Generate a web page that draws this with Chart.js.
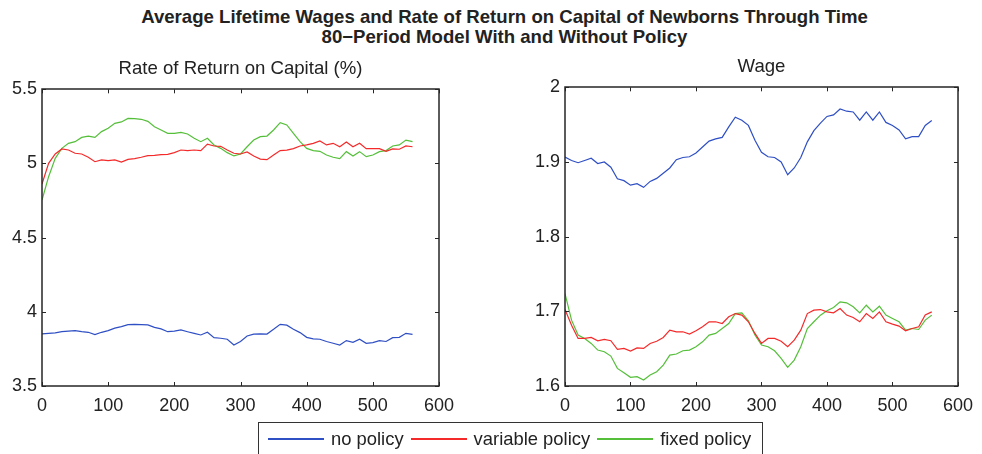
<!DOCTYPE html>
<html>
<head>
<meta charset="utf-8">
<script src="https://cdn.jsdelivr.net/npm/chart.js@4.4.1/dist/chart.umd.min.js"></script>
<style>
    body { margin: 0; background: #fff; width: 982px; height: 454px; overflow: hidden; position: relative; font-family: "Liberation Sans", Arial, sans-serif; color: #222; }
    #main-title { position: absolute; left: 0; top: 7px; width: 1009px; text-align: center; font-weight: bold; font-size: 18.6px; line-height: 20px; }
    canvas { position: absolute; }
    #legend { position: absolute; left: 258px; top: 422px; width: 505px; height: 40px; border: 1px solid #333; box-sizing: border-box; display: flex; align-items: flex-start; padding-top: 5px; padding-left: 9px; font-size: 18.4px; white-space: nowrap; }
    .leg-item { display: flex; align-items: center; margin-right: 7px; flex-shrink: 0; }
    .leg-line { display: inline-block; width: 56px; height: 1.4px; margin-right: 7px; }
</style>
</head>
<body>
<div id="main-title">Average Lifetime Wages and Rate of Return on Capital of Newborns Through Time<br>80−Period Model With and Without Policy</div>
<canvas id="rate-chart" width="480" height="404" style="left:0;top:50px"></canvas>
<canvas id="wage-chart" width="462" height="404" style="left:520px;top:50px"></canvas>
<div id="legend"></div>

<script>
// periods sampled every 10
const periods = [0, 10, 20, 30, 40, 50, 60, 70, 80, 90, 100, 110, 120, 130, 140, 150, 160, 170, 180, 190,
    200, 210, 220, 230, 240, 250, 260, 270, 280, 290, 300, 310, 320, 330, 340, 350, 360, 370, 380, 390,
    400, 410, 420, 430, 440, 450, 460, 470, 480, 490, 500, 510, 520, 530, 540, 550, 560];

const rateNoPolicy = [3.851, 3.855, 3.858, 3.866, 3.870, 3.873, 3.866, 3.862, 3.846, 3.862, 3.873, 3.890, 3.900, 3.914, 3.916, 3.914, 3.912, 3.895, 3.885, 3.866,
    3.870, 3.878, 3.866, 3.855, 3.844, 3.862, 3.826, 3.822, 3.815, 3.776, 3.800, 3.837, 3.850, 3.852, 3.850, 3.882, 3.916, 3.910, 3.882, 3.860,
    3.828, 3.818, 3.815, 3.800, 3.788, 3.776, 3.806, 3.794, 3.815, 3.788, 3.792, 3.806, 3.800, 3.826, 3.828, 3.855, 3.848];

const rateVariable = [4.862, 5.001, 5.064, 5.098, 5.091, 5.069, 5.064, 5.042, 5.012, 5.024, 5.019, 5.024, 5.010, 5.028, 5.033, 5.042, 5.053, 5.055, 5.060, 5.062,
    5.073, 5.091, 5.087, 5.091, 5.087, 5.131, 5.118, 5.116, 5.091, 5.069, 5.064, 5.078, 5.051, 5.030, 5.026, 5.057, 5.087, 5.090, 5.100, 5.118,
    5.125, 5.136, 5.152, 5.125, 5.136, 5.113, 5.145, 5.113, 5.136, 5.100, 5.100, 5.100, 5.082, 5.098, 5.096, 5.118, 5.113];

const rateFixed = [4.754, 4.911, 5.035, 5.102, 5.136, 5.147, 5.176, 5.185, 5.176, 5.215, 5.237, 5.271, 5.280, 5.304, 5.302, 5.298, 5.284, 5.248, 5.226, 5.203,
    5.203, 5.210, 5.199, 5.170, 5.147, 5.170, 5.125, 5.102, 5.073, 5.051, 5.064, 5.113, 5.158, 5.181, 5.185, 5.226, 5.275, 5.260, 5.203, 5.147,
    5.102, 5.087, 5.082, 5.057, 5.042, 5.033, 5.080, 5.051, 5.080, 5.046, 5.057, 5.080, 5.087, 5.118, 5.125, 5.158, 5.147];

const wageNoPolicy = [1.9065, 1.902, 1.899, 1.902, 1.905, 1.898, 1.900, 1.893, 1.8775, 1.875, 1.869, 1.871, 1.866, 1.874, 1.878, 1.885, 1.892, 1.903, 1.906, 1.907,
    1.912, 1.920, 1.928, 1.931, 1.933, 1.947, 1.960, 1.956, 1.949, 1.929, 1.913, 1.907, 1.906, 1.900, 1.883, 1.892, 1.906, 1.927, 1.942, 1.952,
    1.961, 1.963, 1.971, 1.968, 1.967, 1.956, 1.967, 1.956, 1.967, 1.953, 1.949, 1.943, 1.931, 1.934, 1.934, 1.949, 1.9555];

const wageVariable = [1.7024, 1.6815, 1.6637, 1.6637, 1.665, 1.6606, 1.6624, 1.6606, 1.649, 1.6503, 1.6468, 1.651, 1.6503, 1.657, 1.660, 1.665, 1.6748, 1.6726, 1.6726, 1.6695,
    1.674, 1.6793, 1.686, 1.686, 1.6837, 1.6927, 1.697, 1.695, 1.686, 1.6704, 1.657, 1.6637, 1.6637, 1.660, 1.6526, 1.6615, 1.6748, 1.697, 1.7015, 1.7024,
    1.6993, 1.698, 1.7038, 1.695, 1.6918, 1.686, 1.697, 1.6904, 1.6993, 1.686, 1.6829, 1.6802, 1.674, 1.677, 1.6793, 1.695, 1.6993];

const wageFixed = [1.7238, 1.6882, 1.6682, 1.6637, 1.657, 1.6481, 1.6459, 1.6401, 1.6236, 1.6178, 1.6116, 1.6125, 1.608, 1.6147, 1.6192, 1.628, 1.6414, 1.6428, 1.6472, 1.6481,
    1.6526, 1.6592, 1.6682, 1.6704, 1.677, 1.6837, 1.697, 1.698, 1.6873, 1.6682, 1.6548, 1.6526, 1.6472, 1.637, 1.625, 1.6347, 1.6526, 1.677, 1.686, 1.6949,
    1.7007, 1.7051, 1.7127, 1.7114, 1.706, 1.698, 1.7082, 1.6993, 1.7069, 1.6949, 1.6904, 1.686, 1.6748, 1.677, 1.6757, 1.6882, 1.6949];

const xTicks = [0, 100, 200, 300, 400, 500, 600];
const rateTicks = [3.5, 4, 4.5, 5, 5.5];
const wageTicks = [1.6, 1.7, 1.8, 1.9, 2];

const seriesNames = ['no policy', 'variable policy', 'fixed policy'];
const seriesColors = ['#2f4fc4', '#f42a2a', '#55bf3a'];

const axisColor = '#262626';
const tickFont = { family: '"Liberation Sans", Arial, sans-serif', size: 18 };

Chart.defaults.color = '#222';

// matlab-ish box with inward tick marks
const boxPlugin = {
    id: 'boxTicks',
    afterDraw(chart) {
        const ctx = chart.ctx;
        const a = chart.chartArea;
        const xs = chart.scales.x;
        const ys = chart.scales.y;
        ctx.save();
        ctx.strokeStyle = axisColor;
        ctx.lineWidth = 1;
        ctx.beginPath();
        xs.ticks.forEach(t => {
            const px = Math.round(xs.getPixelForValue(t.value)) + 0.5;
            ctx.moveTo(px, a.bottom); ctx.lineTo(px, a.bottom - 4);
            ctx.moveTo(px, a.top); ctx.lineTo(px, a.top + 4);
        });
        ys.ticks.forEach(t => {
            const py = Math.round(ys.getPixelForValue(t.value)) + 0.5;
            ctx.moveTo(a.left, py); ctx.lineTo(a.left + 4, py);
            ctx.moveTo(a.right, py); ctx.lineTo(a.right - 4, py);
        });
        ctx.stroke();
        ctx.lineWidth = 1.5;
        ctx.strokeRect(Math.round(a.left), Math.round(a.top), Math.round(a.right - a.left), Math.round(a.bottom - a.top));
        ctx.restore();
    }
};

function makeDatasets(values) {
    return values.map((vals, idx) => ({
        label: seriesNames[idx],
        data: periods.map((p, i) => ({ x: p, y: vals[i] })),
        borderColor: seriesColors[idx],
        backgroundColor: seriesColors[idx],
        borderWidth: 1.2,
        pointRadius: 0,
        tension: 0,
        fill: false
    }));
}

function makeConfig(title, values, yMin, yMax, yTicks, yWidth, padRight, titlePad) {
    return {
        type: 'line',
        data: { datasets: makeDatasets(values) },
        options: {
            responsive: false,
            animation: false,
            devicePixelRatio: 1,
            layout: { padding: { left: 0, right: padRight, top: 0, bottom: 0 } },
            plugins: {
                legend: { display: false },
                tooltip: { enabled: false },
                title: {
                    display: true,
                    text: title,
                    fullSize: false,
                    color: '#222',
                    font: { family: '"Liberation Sans", Arial, sans-serif', size: 18.6, weight: 'normal' },
                    padding: titlePad
                }
            },
            scales: {
                x: {
                    type: 'linear',
                    min: 0,
                    max: 600,
                    afterBuildTicks: (scale) => { scale.ticks = xTicks.map(v => ({ value: v })); },
                    afterFit: (scale) => { scale.height = 68; },
                    grid: { display: false, drawTicks: false },
                    border: { display: false },
                    ticks: { font: tickFont, color: '#222', padding: 9, maxRotation: 0, autoSkip: false }
                },
                y: {
                    type: 'linear',
                    min: yMin,
                    max: yMax,
                    afterBuildTicks: (scale) => { scale.ticks = yTicks.map(v => ({ value: v })); },
                    afterFit: (scale) => { scale.width = yWidth; },
                    grid: { display: false, drawTicks: false },
                    border: { display: false },
                    ticks: {
                        font: tickFont,
                        color: '#222',
                        padding: 5,
                        autoSkip: false,
                        callback: (v) => String(Number(v.toFixed(2)))
                    }
                }
            }
        },
        plugins: [boxPlugin]
    };
}

let charts = {
    rate: new Chart(document.getElementById('rate-chart'),
        makeConfig('Rate of Return on Capital (%)', [rateNoPolicy, rateVariable, rateFixed], 3.5, 5.5, rateTicks, 42, 41, { top: 8, bottom: 9 })),
    wage: new Chart(document.getElementById('wage-chart'),
        makeConfig('Wage', [wageNoPolicy, wageVariable, wageFixed], 1.6, 2, wageTicks, 45, 20, { top: 6, bottom: 9 }))
};

// shared legend under both plots
const legend = document.getElementById('legend');
seriesNames.forEach((name, idx) => {
    const item = document.createElement('span');
    item.className = 'leg-item';
    const line = document.createElement('span');
    line.className = 'leg-line';
    line.style.backgroundColor = seriesColors[idx];
    item.appendChild(line);
    item.appendChild(document.createTextNode(name));
    legend.appendChild(item);
});
</script>
</body>
</html>
